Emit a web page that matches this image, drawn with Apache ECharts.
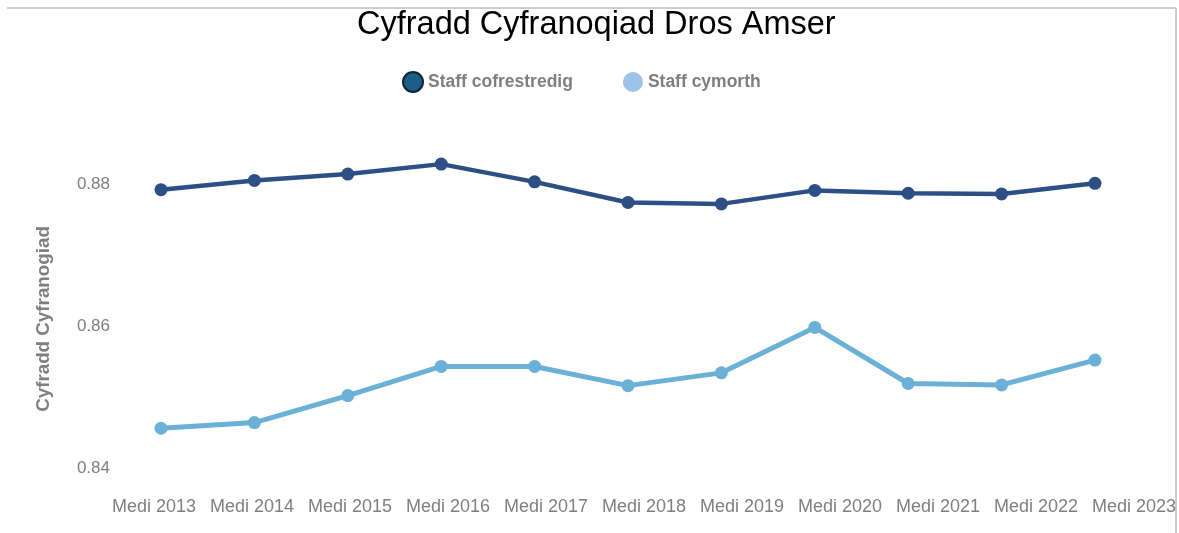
<!DOCTYPE html>
<html>
<head>
<meta charset="utf-8">
<title>Cyfradd Cyfranoqiad Dros Amser</title>
<script src="https://cdn.jsdelivr.net/npm/echarts@6/dist/echarts.min.js"></script>
<style>
  html, body { margin: 0; padding: 0; background: #fff; }
  #chart { width: 1179px; height: 533px; }
</style>
</head>
<body>
<div id="chart"></div>
<script>
// categorïau (Medi bob blwyddyn)
const categories = ['Medi 2013', 'Medi 2014', 'Medi 2015', 'Medi 2016', 'Medi 2017', 'Medi 2018',
  'Medi 2019', 'Medi 2020', 'Medi 2021', 'Medi 2022', 'Medi 2023'];
// staff cofrestredig
const registered = [0.8792, 0.8805, 0.8814, 0.8828, 0.8803, 0.8774, 0.8772, 0.8791, 0.8787, 0.8786, 0.8801];
// staff cymorth
const support = [0.8456, 0.8464, 0.8502, 0.8543, 0.8543, 0.8516, 0.8534, 0.8598, 0.8519, 0.8517, 0.8552];
const yTicks = [0.84, 0.86, 0.88];

const font = 'Liberation Sans, Arial, sans-serif';
const grey = '#7f7f7f';

const chart = echarts.init(document.getElementById('chart'));
chart.setOption({
  backgroundColor: '#fff',
  animation: false,
  title: {
    text: 'Cyfradd Cyfranoqiad Dros Amser',
    left: 352,
    top: 4,
    textStyle: { fontFamily: font, fontSize: 32.5, fontWeight: 'normal', color: '#000' }
  },
  legend: {
    left: 397,
    top: 66,
    icon: 'circle',
    itemWidth: 20,
    itemHeight: 20,
    itemGap: 50,
    textStyle: { fontFamily: font, fontSize: 17.5, fontWeight: 'bold', color: grey },
    data: [
      { name: 'Staff cofrestredig', itemStyle: { color: '#1c5d85', borderColor: '#0b2436', borderWidth: 2 } },
      { name: 'Staff cymorth', itemStyle: { color: '#9dc3e6', borderWidth: 0 } }
    ]
  },
  graphic: [
    { type: 'line', shape: { x1: 7, y1: 8, x2: 1176, y2: 8 }, style: { stroke: '#cccccc', lineWidth: 2 } },
    { type: 'line', shape: { x1: 1176, y1: 8, x2: 1176, y2: 533 }, style: { stroke: '#cccccc', lineWidth: 2 } }
  ],
  grid: [
    // data
    { left: 161, right: 84, top: 184, bottom: 65 },
    // labels along the bottom
    { left: 154, right: 45, top: 184, bottom: 65 }
  ],
  xAxis: [
    {
      gridIndex: 0, type: 'category', data: categories, boundaryGap: false,
      axisLine: { show: false }, axisTick: { show: false }, axisLabel: { show: false }
    },
    {
      gridIndex: 1, type: 'category', data: categories, boundaryGap: false,
      axisLine: { show: false }, axisTick: { show: false },
      axisLabel: { margin: 30, fontFamily: font, fontSize: 18, color: grey, interval: 0 }
    }
  ],
  yAxis: [
    {
      gridIndex: 0, type: 'value', min: yTicks[0], max: yTicks[yTicks.length - 1], interval: 0.02,
      name: 'Cyfradd Cyfranogiad', nameLocation: 'middle', nameRotate: 90, nameGap: 108,
      nameTextStyle: { fontFamily: font, fontSize: 18.8, fontWeight: 'bold', color: grey, padding: [0, 0, 0, 14] },
      axisLine: { show: false }, axisTick: { show: false }, splitLine: { show: false },
      axisLabel: { margin: 51, fontFamily: font, fontSize: 17, color: grey, formatter: v => v.toFixed(2) }
    },
    { gridIndex: 1, type: 'value', show: false }
  ],
  series: [
    {
      name: 'Staff cofrestredig', type: 'line', data: registered,
      xAxisIndex: 0, yAxisIndex: 0, clip: false,
      symbol: 'circle', symbolSize: 13,
      lineStyle: { color: '#2e4f85', width: 4.5 },
      itemStyle: { color: '#2e4f85' }
    },
    {
      name: 'Staff cymorth', type: 'line', data: support,
      xAxisIndex: 0, yAxisIndex: 0, clip: false,
      symbol: 'circle', symbolSize: 13,
      lineStyle: { color: '#6bb0d6', width: 5 },
      itemStyle: { color: '#6bb0d6' }
    }
  ]
});
</script>
</body>
</html>
